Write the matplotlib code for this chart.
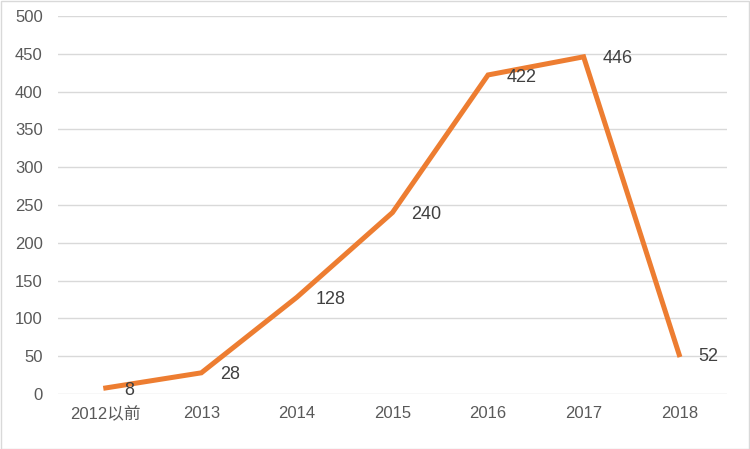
import matplotlib
matplotlib.use("Agg")
import matplotlib.pyplot as plt
from matplotlib.patches import Rectangle

plt.rcParams['font.family'] = ['Liberation Sans', 'Noto Sans CJK SC', 'DejaVu Sans']

categories = ["2012以前", "2013", "2014", "2015", "2016", "2017", "2018"]
values = [8, 28, 128, 240, 422, 446, 52]
yticks = list(range(0, 501, 50))

fig = plt.figure(figsize=(7.5, 4.49), dpi=100)
ax = fig.add_axes([0.0773, 0.1225, 0.892, 0.8419])

x = list(range(len(categories)))
ax.plot(x, values, color='#ED7D31', linewidth=3.6, solid_joinstyle='miter', zorder=3)

# labels sit to the right of each point, like Excel's "right" position
for xi, v in zip(x, values):
    ax.annotate(str(v), (xi, v), xytext=(13.5, -1.5), textcoords='offset points',
                ha='left', va='center', fontsize=13, color='#404040', zorder=4)

ax.set_xlim(-0.5, len(categories) - 0.5)
ax.set_ylim(0, 500)
ax.set_yticks(yticks)
ax.set_xticks(x)
ax.set_xticklabels(categories)
ax.grid(axis='y', color='#D9D9D9', linewidth=1)
ax.set_axisbelow(True)
for s in ax.spines.values():
    s.set_visible(False)
ax.tick_params(axis='both', length=0, labelsize=12, labelcolor='#595959')
ax.tick_params(axis='x', pad=9)
ax.tick_params(axis='y', pad=11)

fig.patches.append(Rectangle((0.001, 0.001), 0.997, 0.996, transform=fig.transFigure,
                             fill=False, edgecolor='#D9D9D9', linewidth=1))

fig.savefig('out.png', dpi=100)
